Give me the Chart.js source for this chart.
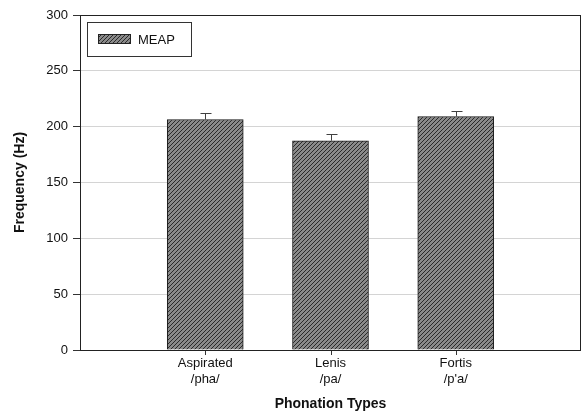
<!DOCTYPE html>
<html>
<head>
<meta charset="utf-8">
<script src="https://cdn.jsdelivr.net/npm/chart.js@4"></script>
<style>
  html, body { margin: 0; padding: 0; background: #fff; }
  #wrap { width: 583px; height: 413px; }
</style>
</head>
<body>
<div id="wrap"><canvas id="freqChart"></canvas></div>
<script>
// empty slots at both ends give the wide margins the original has
const categories = ["", ["Aspirated", "/pha/"], ["Lenis", "/pa/"], ["Fortis", "/p'a/"], ""];
const meapValues = [null, 206.4, 187.4, 209.1, null];
const meapErrors = [null, 5.8, 5.8, 5.2, null];
const yTicks = [0, 50, 100, 150, 200, 250, 300];

function makeHatch() {
  let tile = document.createElement("canvas");
  tile.width = 4;
  tile.height = 4;
  let c = tile.getContext("2d");
  c.fillStyle = "#8a8a8a";
  c.fillRect(0, 0, 4, 4);
  c.strokeStyle = "#2a2a2a";
  c.lineWidth = 1;
  c.beginPath();
  c.moveTo(-1, 5);
  c.lineTo(5, -1);
  c.moveTo(-1, 1);
  c.lineTo(1, -1);
  c.moveTo(3, 5);
  c.lineTo(5, 3);
  c.stroke();
  return c.createPattern(tile, "repeat");
}

const hatch = makeHatch();

// frame, x ticks, error bars and the boxed legend
const extras = {
  id: "extras",
  afterDatasetsDraw(chart) {
    const ctx = chart.ctx;
    const area = chart.chartArea;
    const x = chart.scales.x;
    const y = chart.scales.y;

    ctx.save();
    ctx.lineWidth = 1;
    meapValues.forEach((v, i) => {
      if (v === null) return;
      let px = Math.round(x.getPixelForValue(i)) + 0.5;
      let top = Math.round(y.getPixelForValue(v + meapErrors[i])) + 0.5;
      let base = y.getPixelForValue(v);
      ctx.strokeStyle = "#404040";
      ctx.beginPath();
      ctx.moveTo(px, base);
      ctx.lineTo(px, top);
      ctx.moveTo(px - 5, top);
      ctx.lineTo(px + 6, top);
      ctx.stroke();

      ctx.strokeStyle = "#333";
      ctx.beginPath();
      ctx.moveTo(px, area.bottom);
      ctx.lineTo(px, area.bottom + 5);
      ctx.stroke();
    });

    ctx.strokeStyle = "#222";
    ctx.strokeRect(area.left + 0.5, area.top + 0.5, area.right - area.left - 1, area.bottom - area.top);

    // legend
    ctx.fillStyle = "#fff";
    ctx.fillRect(88, 22, 104, 34);
    ctx.strokeStyle = "#333";
    ctx.strokeRect(87.5, 22.5, 104, 34);
    ctx.fillStyle = hatch;
    ctx.fillRect(98, 34, 33, 10);
    ctx.strokeStyle = "#222";
    ctx.strokeRect(98.5, 34.5, 32, 9);
    ctx.fillStyle = "#111";
    ctx.font = "13px 'Liberation Sans', Arial, sans-serif";
    ctx.textBaseline = "middle";
    ctx.fillText("MEAP", 138, 40);
    ctx.restore();
  }
};

const freqChart = new Chart(document.getElementById("freqChart"), {
  type: "bar",
  data: {
    labels: categories,
    datasets: [
      {
        label: "MEAP",
        data: meapValues,
        backgroundColor: hatch,
        borderColor: "#1a1a1a",
        borderWidth: 1,
        borderSkipped: "bottom",
        barThickness: 76,
      },
    ],
  },
  options: {
    responsive: true,
    maintainAspectRatio: false,
    animation: false,
    layout: { padding: { top: 15, right: 2, left: 0, bottom: 0 } },
    plugins: {
      legend: { display: false },
      tooltip: { enabled: false },
    },
    scales: {
      x: {
        offset: false,
        grid: {
          offset: false,
          drawOnChartArea: false,
          tickLength: 5,
          color: "rgba(0,0,0,0)",
        },
        border: { display: false },
        ticks: {
          color: "#111",
          font: { family: "'Liberation Sans', Arial, sans-serif", size: 13, lineHeight: 1.2 },
          padding: 1,
          maxRotation: 0,
          autoSkip: false,
        },
        title: {
          display: true,
          text: "Phonation Types",
          color: "#111",
          font: { family: "'Liberation Sans', Arial, sans-serif", size: 14, weight: "bold" },
          padding: { top: 4, bottom: 0 },
        },
        afterFit: (s) => { s.height = 63; },
      },
      y: {
        min: 0,
        max: 300,
        afterBuildTicks: (s) => { s.ticks = yTicks.map((v) => ({ value: v })); },
        grid: {
          tickLength: 7,
          color: (c) => (c.tick && (c.tick.value === 0 || c.tick.value === 300) ? "#333" : "#d4d4d4"),
          tickColor: "#333",
        },
        border: { display: false },
        ticks: {
          color: "#111",
          font: { family: "'Liberation Sans', Arial, sans-serif", size: 13 },
          padding: 5,
        },
        title: {
          display: true,
          text: "Frequency (Hz)",
          color: "#111",
          font: { family: "'Liberation Sans', Arial, sans-serif", size: 14, weight: "bold" },
          padding: { top: 12, bottom: 0 },
        },
        afterFit: (s) => { s.width = 80; },
      },
    },
  },
  plugins: [extras],
});
</script>
</body>
</html>
